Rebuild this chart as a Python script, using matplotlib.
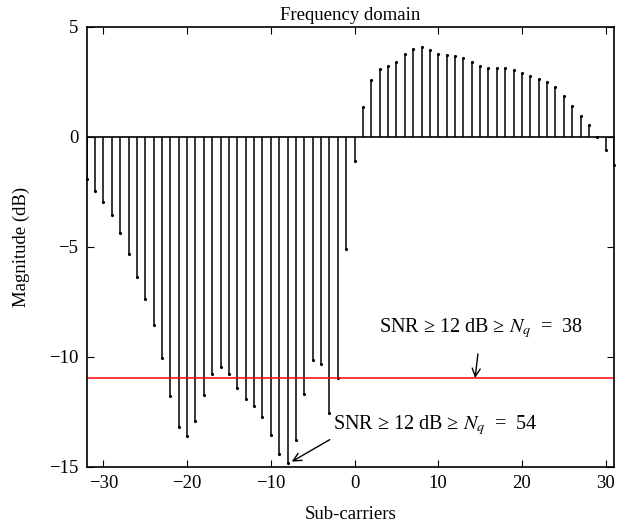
import matplotlib.pyplot as plt
import numpy as np

plt.close('all')
plt.rcParams['font.family'] = ['Liberation Serif', 'DejaVu Serif']
plt.rcParams['mathtext.fontset'] = 'stix'

# sub-carrier index and magnitude (dB)
subcarriers = list(range(-32, 32))
magnitude = [
    -1.94, -2.47, -2.95, -3.58, -4.38, -5.35, -6.36, -7.39,   # -32..-25
    -8.58, -10.06, -11.77, -13.18, -13.62, -12.92, -11.74, -10.79,  # -24..-17
    -10.45, -10.79, -11.41, -11.91, -12.24, -12.76, -13.58, -14.42,  # -16..-9
    -14.82, -13.79, -11.68, -10.15, -10.35, -12.55, -10.98, -5.12,   # -8..-1
    -1.09, 1.36, 2.59, 3.06, 3.20, 3.39, 3.74, 4.00,           # 0..7
    4.06, 3.92, 3.77, 3.70, 3.68, 3.58, 3.39, 3.21,            # 8..15
    3.12, 3.12, 3.12, 3.03, 2.88, 2.74, 2.62, 2.50,            # 16..23
    2.24, 1.86, 1.39, 0.95, 0.53, -0.03, -0.62, -1.29,         # 24..31
]
threshold = -10.97

fs = 13.5
fig = plt.figure(figsize=(6.19, 5.27), dpi=100)
ax = fig.add_axes([0.140, 0.1144, 0.852, 0.8349])

ml, sl, bl = ax.stem(subcarriers, magnitude, linefmt='k-', markerfmt='k.', basefmt='k-')
plt.setp(sl, linewidth=1.1)
plt.setp(ml, markersize=2.5, clip_on=False)
plt.setp(bl, linewidth=1.2)

ax.axhline(threshold, color='red', linewidth=1.1)

ax.set_xlim(-32, 31)
ax.set_ylim(-15, 5)
ax.set_xticks([-30, -20, -10, 0, 10, 20, 30])
ax.set_yticks([-15, -10, -5, 0, 5])
ax.tick_params(direction='in', top=True, right=True, labelsize=fs, length=5, pad=6)

ax.set_title('Frequency domain', fontsize=fs, pad=5)
ax.set_xlabel('Sub-carriers', fontsize=fs, labelpad=10)
ax.set_ylabel('Magnitude (dB)', fontsize=fs, labelpad=14)

# annotations
ax.annotate('SNR ≥ 12 dB ≥ $N_q$  =  38', xy=(14.4, threshold), xytext=(15.1, -8.7),
            ha='center', va='center', fontsize=14.5,
            arrowprops=dict(arrowstyle='->', color='black', lw=1.0, shrinkA=8, shrinkB=0))
ax.annotate('SNR ≥ 12 dB ≥ $N_q$  =  54', xy=(-7.5, -14.77), xytext=(9.6, -13.1),
            ha='center', va='center', fontsize=14.5,
            arrowprops=dict(arrowstyle='->', color='black', lw=1.0, shrinkA=0, shrinkB=0,
                            relpos=(0.03, 0.1)))

for s in ax.spines.values():
    s.set_linewidth(1.2)

plt.savefig('out.png', dpi=100)
